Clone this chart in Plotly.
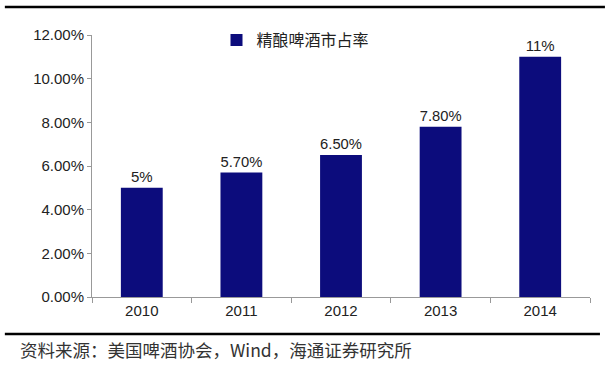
import plotly.graph_objects as go

years = ["2010", "2011", "2012", "2013", "2014"]
share = [5.0, 5.7, 6.5, 7.8, 11.0]
labels = ["5%", "5.70%", "6.50%", "7.80%", "11%"]
yticks = [0, 2, 4, 6, 8, 10, 12]
yticktext = ["0.00%", "2.00%", "4.00%", "6.00%", "8.00%", "10.00%", "12.00%"]
series_name = "精酿啤酒市占率"
source = "资料来源：美国啤酒协会，Wind，海通证券研究所"

navy = "#0c0c7c"
font_main = "Liberation Sans, Arial, sans-serif"
font_cjk = "Noto Sans CJK SC, sans-serif"

fig = go.Figure()
fig.add_trace(go.Bar(
    x=years, y=share, name=series_name,
    marker=dict(color=navy, line=dict(width=0)),
    width=0.42,
    text=labels, textposition="outside",
    textfont=dict(size=15, color="#222", family=font_main),
    cliponaxis=False,
))

fig.update_layout(
    width=611, height=365,
    margin=dict(l=92, r=21, t=35, b=68, autoexpand=False),
    paper_bgcolor="white", plot_bgcolor="white",
    showlegend=True,
    legend=dict(x=0.25, y=0.981, xanchor="left", yanchor="middle",
                bgcolor="rgba(0,0,0,0)",
                font=dict(size=16, family=font_cjk, color="#222"),
                itemwidth=30),
    font=dict(family=font_main, size=15, color="#222"),
    xaxis=dict(showline=True, linecolor="#999", linewidth=1,
               ticks="outside", tickcolor="#999", ticklen=5,
               tickson="boundaries", showgrid=False,
               tickfont=dict(size=15, family=font_main, color="#222")),
    yaxis=dict(range=[0, 12], tickvals=yticks, ticktext=yticktext,
               showline=True, linecolor="#999", linewidth=1,
               ticks="outside", tickcolor="#999", ticklen=4,
               showgrid=False, zeroline=False,
               tickfont=dict(size=15, family=font_main, color="#222")),
)

fig.add_shape(type="line", xref="paper", yref="paper",
              x0=-0.175, x1=1.03, y0=1.107, y1=1.107,
              line=dict(color="black", width=2.5))
fig.add_shape(type="line", xref="paper", yref="paper",
              x0=-0.175, x1=1.02, y0=-0.141, y1=-0.141,
              line=dict(color="black", width=2.5))
fig.add_annotation(text=source, xref="paper", yref="paper",
                   x=-0.149, y=-0.202, xanchor="left", yanchor="middle",
                   showarrow=False,
                   font=dict(size=17.5, family=font_cjk, color="#333"))

fig.write_html("out.html", config={"displayModeBar": False},
               post_script="document.body.style.margin='0';")
